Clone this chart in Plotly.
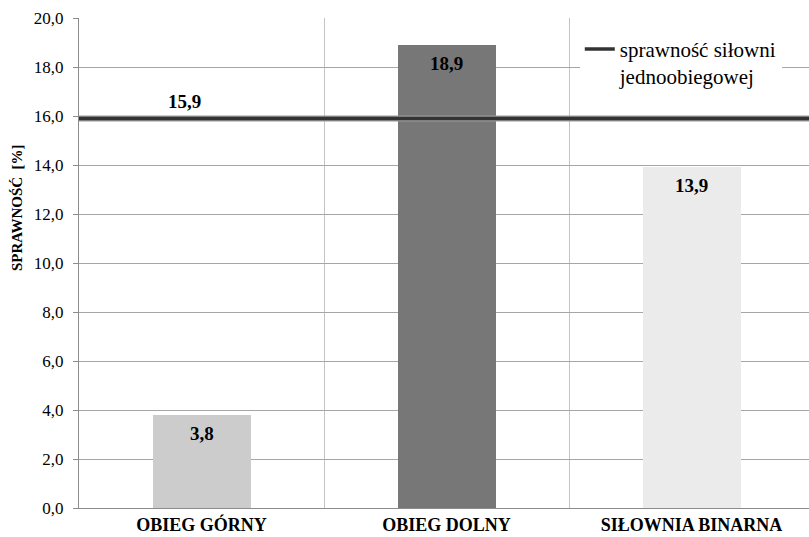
import plotly.graph_objects as go

# Data
categories = ["OBIEG GÓRNY", "OBIEG DOLNY", "SIŁOWNIA BINARNA"]
efficiency = [3.8, 18.9, 13.9]
bar_colors = ["#cccccc", "#777777", "#ebebeb"]
reference_value = 15.9
reference_name = "sprawność siłowni<br>jednoobiegowej"
y_ticks = [0, 2, 4, 6, 8, 10, 12, 14, 16, 18, 20]
y_title = "SPRAWNOŚĆ  [%]"

serif = "Liberation Serif"
positions = list(range(len(categories)))


def fmt(v):
    return f"{v:.1f}".replace(".", ",")


fig = go.Figure()

fig.add_trace(go.Bar(
    x=positions,
    y=efficiency,
    width=0.4,
    marker=dict(color=bar_colors, line=dict(width=0)),
    showlegend=False,
    hoverinfo="skip",
))

# Value labels just inside the top of each bar
for p, v in zip(positions, efficiency):
    fig.add_annotation(
        x=p, y=v, text=fmt(v), showarrow=False,
        yanchor="top", yshift=-6,
        font=dict(family=serif, size=19, color="black", weight="bold"),
    )

# Reference line: soft halo under a dark core
x_span = [positions[0] - 0.5, positions[-1] + 0.5]
fig.add_trace(go.Scatter(
    x=x_span, y=[reference_value] * 2, mode="lines",
    line=dict(color="#9a9a9a", width=6),
    showlegend=False, hoverinfo="skip",
))
fig.add_trace(go.Scatter(
    x=x_span, y=[reference_value] * 2, mode="lines",
    line=dict(color="#333333", width=3.5),
    name=reference_name, showlegend=True, hoverinfo="skip",
))

fig.add_annotation(
    x=positions[0] - 0.07, y=reference_value,
    text=fmt(reference_value),
    showarrow=False, yanchor="bottom", yshift=4,
    font=dict(family=serif, size=19, color="black", weight="bold"),
)

# Vertical axis title
fig.add_annotation(
    xref="paper", yref="paper", x=-0.085, y=0.614,
    text=y_title, textangle=-90, showarrow=False,
    xanchor="center", yanchor="middle",
    font=dict(family=serif, size=15, color="black", weight="bold"),
)

fig.update_layout(
    width=809, height=537,
    margin=dict(l=79, r=0, t=18, b=29),
    paper_bgcolor="white", plot_bgcolor="white",
    separators=", ",
    font=dict(family=serif, color="black"),
    bargap=0,
    legend=dict(
        x=0.686, y=0.978, xanchor="left", yanchor="top",
        bgcolor="white", borderwidth=0,
        font=dict(family=serif, size=21, color="black"),
        itemwidth=30, valign="top",
    ),
    xaxis=dict(
        range=[positions[0] - 0.5, positions[0] - 0.5 + 730 / 245],
        tickvals=positions, ticktext=categories,
        tickfont=dict(family=serif, size=18, color="black", weight="bold"),
        showgrid=False, zeroline=False,
        showline=True, linecolor="#8c8c8c", linewidth=1,
        ticks="", ticklen=0,
        minor=dict(tickvals=[p + 0.5 for p in positions], showgrid=True,
                   gridcolor="#c4c4c4", gridwidth=1, ticks=""),
    ),
    yaxis=dict(
        range=[0, 20],
        tickvals=y_ticks, tickformat=".1f",
        tickfont=dict(family=serif, size=17, color="black"),
        ticklabelstandoff=6,
        showgrid=True, gridcolor="#a6a6a6", gridwidth=1,
        zeroline=False,
        showline=True, linecolor="#8c8c8c", linewidth=1,
        ticks="outside", ticklen=5, tickcolor="#8c8c8c",
    ),
)

fig.write_html("out.html")
